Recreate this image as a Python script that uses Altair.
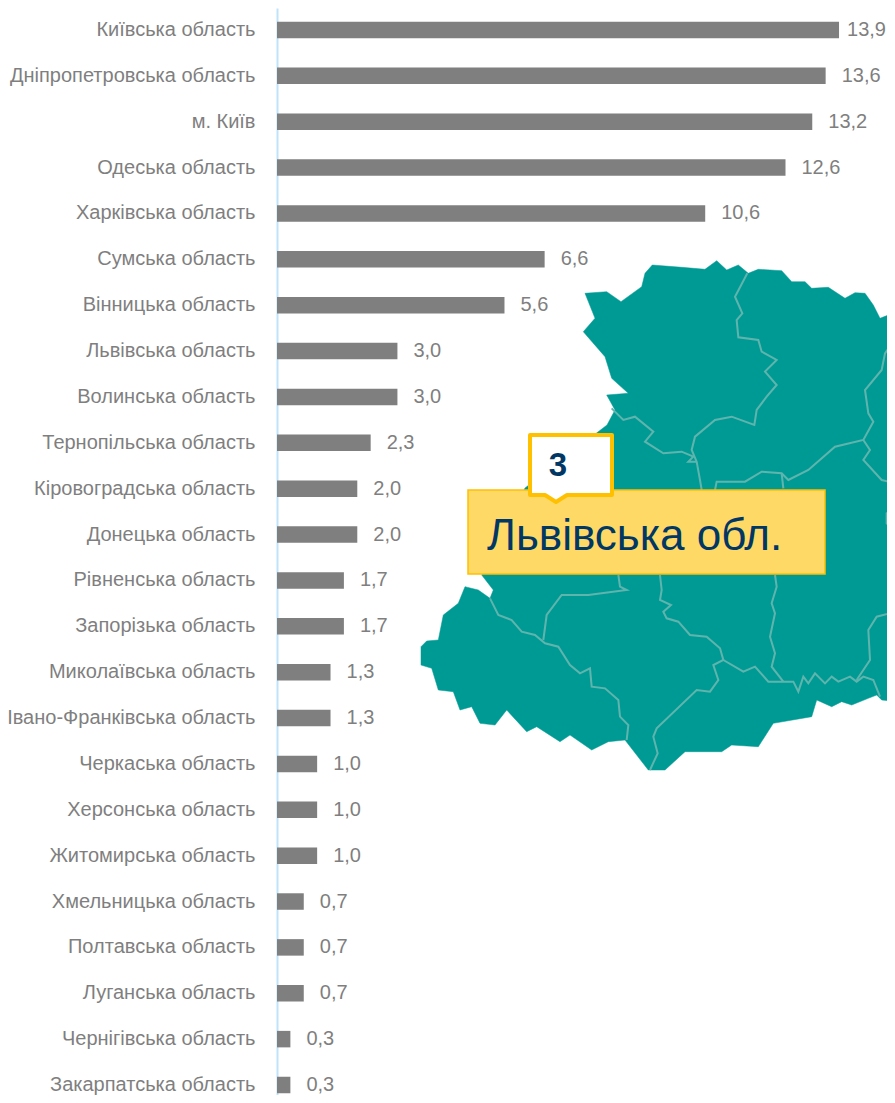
import altair as alt
import pandas as pd

regions = ["Київська область","Дніпропетровська область","м. Київ","Одеська область","Харківська область",
           "Сумська область","Вінницька область","Львівська область","Волинська область","Тернопільська область",
           "Кіровоградська область","Донецька область","Рівненська область","Запорізька область",
           "Миколаївська область","Івано-Франківська область","Черкаська область","Херсонська область",
           "Житомирська область","Хмельницька область","Полтавська область","Луганська область",
           "Чернігівська область","Закарпатська область"]
# bar lengths as measured in the picture; the printed labels are rounded to one decimal
values = [13.86,13.53,13.2,12.54,10.56,6.6,5.61,2.97,2.97,2.31,1.98,1.98,1.65,1.65,1.32,1.32,0.99,0.99,0.99,0.66,0.66,0.66,0.33,0.33]
value_labels = ["13,9","13,6","13,2","12,6","10,6","6,6","5,6","3,0","3,0","2,3","2,0","2,0","1,7","1,7","1,3","1,3",
                "1,0","1,0","1,0","0,7","0,7","0,7","0,3","0,3"]

# Map sketch (page pixels)
outline = [(585,293.3),(606.7,291.7),(621,301.7),(641.7,286.7),(645,273.3),(652.3,265),(681.7,267.3),(705,269.3),
 (716.7,260.7),(726.7,270),(738.3,265),(748.3,273.3),(758.3,269.3),(781.7,270.7),(791.7,281.7),(805,281.7),
 (811.7,288.3),(828.3,287.3),(845,298.3),(855,292.7),(865,293.3),(873.3,305),(880,318.3),(897,311.7),
 (897,701.7),(881.7,700),(876.7,695),(868.3,698.3),(851.7,705),(841.7,701.7),(831.7,706.7),(816.7,700),
 (811.7,716.7),(773.3,723.3),(758.3,746.7),(731.7,745),(721.7,751.7),(685,751.7),(665,770),(648.3,770),
 (625,740),(608.3,741.7),(591.7,750),(570,735),(560,741.7),(536.7,726.7),(526.7,731.7),(506.7,710),(495,725),
 (480,723.3),(471.7,706.7),(460,710),(453.3,691.7),(438.3,690),(431.7,668.3),(421,665),(421,646.7),(426.7,641),
 (438.3,640),(443.3,615),(458.3,603.3),(465,586.7),(478.3,590),(490,598.3),(493.3,590),(481.7,575),(525,488),
 (607,425),(615,410),(606.7,395),(628.3,393.3),(611.7,378.3),(605,356.7),(583.3,331.7),(595,318.3),(585,293.3)]

upper_borders = [
 [(997,70),(960,140),(982,190),(965,210),(970,262),(1030,270),(1040,305),(1085,330),(1050,365),(1085,405),(1055,440),
  (1025,480),(1018,525),(950,500),(900,510),(840,560),(830,600),(845,635),(855,690),(860,720)],
 [(590,475),(625,510),(660,500),(715,545),(690,575),(745,610),(800,605),(835,620),(820,635),(845,635)],
 [(1445,260),(1410,310),(1400,360),(1350,420),(1360,490),(1375,515),(1345,570),(1260,590),(1180,660),(1120,690),
  (1100,670),(1040,665),(990,695),(905,695),(900,720)],
 [(1100,670),(1105,715)],
 [(1345,570),(1365,600),(1345,630),(1400,690),(1445,700)],
]
lower_borders = [
 [(1445,80),(1415,100),(1415,130),(1445,160)],
 [(1080,285),(1085,320),(1070,370),(1080,400),(1065,470),(1080,520),(1070,560),(1105,605)],
 [(610,285),(615,320),(635,330),(520,345),(440,345),(395,405),(385,480)],
 [(225,355),(250,405),(290,420),(320,455),(360,465),(390,490),(430,500),(465,555),(495,580),(525,565),(530,620),
  (570,625),(610,660),(615,710),(640,735),(635,780)],
 [(735,285),(740,330),(735,360),(768,375),(745,395),(755,415),(790,425),(825,465),(875,470),(915,505),(925,540),
  (895,555),(910,600),(885,635),(845,630),(725,745),(715,770),(728,820),(705,870)],
 [(925,540),(985,575),(1020,560),(1060,605),(1105,605),(1135,605),(1150,635),(1165,590),(1180,610),(1200,580),
  (1230,610),(1250,590),(1270,605),(1305,590),(1325,605),(1345,590),(1375,600),(1395,650)],
 [(1325,600),(1365,540),(1360,450),(1385,410),(1445,395)],
]
yellow_box = [(468,490),(825,490),(825,574),(468,574),(468,490)]
white_callout = [(530,435),(612,435),(612,495),(567,495),(556,502),(545,495),(530,495),(530,435)]

def pg(points, oy):
    return [[415 + x / 3, oy + y / 3] for x, y in points]

def geo(kind, coords):
    return {"type": "Feature", "properties": {}, "geometry": {"type": kind, "coordinates": coords}}

def shapes(features):
    return alt.InlineData(values={"type": "FeatureCollection", "features": features},
                          format=alt.DataFormat(property="features", type="json"))

proj = dict(type="identity", scale=1, translate=[-277, -8])
borders = [geo("LineString", pg(p, 250)) for p in upper_borders] + [geo("LineString", pg(p, 480)) for p in lower_borders]

land = alt.Chart(shapes([geo("Polygon", [[list(p) for p in outline]])])).mark_geoshape(
    fill="#009a94", stroke="#009a94", strokeWidth=0.5).project(**proj)
lines = alt.Chart(shapes(borders)).mark_geoshape(filled=False, stroke="#5fb5ae", strokeWidth=2).project(**proj)
ybox = alt.Chart(shapes([geo("Polygon", [[list(p) for p in yellow_box]])])).mark_geoshape(
    fill="#ffd966", stroke="#ffc000", strokeWidth=1.5).project(**proj)
wbox = alt.Chart(shapes([geo("Polygon", [[list(p) for p in white_callout]])])).mark_geoshape(
    fill="#ffffff", stroke="#ffc000", strokeWidth=4, strokeJoin="round").project(**proj)

df = pd.DataFrame({"region": regions, "value": values, "label": value_labels})
font = "Liberation Sans"
y = alt.Y("region:N", sort=None, title=None,
          scale=alt.Scale(domain=regions, paddingInner=0.6403, paddingOuter=0.169, align=0.887),
          axis=alt.Axis(ticks=False, labelPadding=22, labelFont=font, labelFontSize=20, labelColor="#7f7f7f",
                        domainColor="#bfe3fa", domainWidth=2, grid=False, labelLimit=300))
x = alt.X("value:Q", title=None, axis=None, scale=alt.Scale(domain=[0, 610 / 40.55], nice=False))

bars = alt.Chart(df).mark_bar(color="#7f7f7f").encode(x=x, y=y)
label_style = dict(align="left", baseline="middle", font=font, fontSize=20, color="#7f7f7f")
labels = alt.Chart(df.iloc[1:]).mark_text(dx=16, **label_style).encode(x=x, y=y, text="label:N")
top_label = alt.Chart(df.iloc[:1]).mark_text(dx=8, **label_style).encode(x=x, y=y, text="label:N")

t3 = alt.Chart(pd.DataFrame({"t": ["3"]})).mark_text(font=font, fontWeight="bold", fontSize=33, color="#003764",
    align="center", baseline="middle").encode(x=alt.value(558 - 277), y=alt.value(466 - 8), text="t:N")
tname = alt.Chart(pd.DataFrame({"t": ["Львівська обл."]})).mark_text(font=font, fontSize=44, color="#003764",
    align="left", baseline="middle").encode(x=alt.value(487 - 277), y=alt.value(537 - 8), text="t:N")

chart = alt.layer(land, lines, bars, labels, top_label, ybox, wbox, t3, tname).properties(
    width=610, height=1087,
    padding={"left": 269, "top": 0, "right": 0, "bottom": 0},
    autosize=alt.AutoSizeParams(type="none"),
).configure_view(stroke=None)

chart.save("out.html", embed_options={"renderer": "svg", "actions": False})
